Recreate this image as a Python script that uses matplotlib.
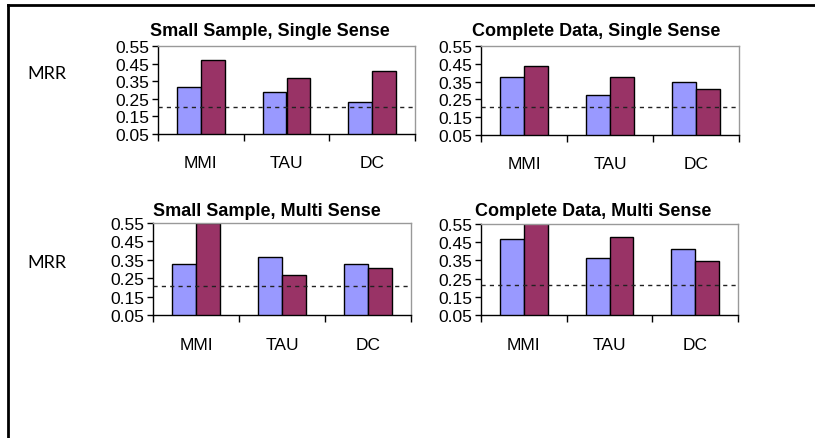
import matplotlib
matplotlib.use('Agg')
import matplotlib.pyplot as plt
from matplotlib.lines import Line2D
import numpy as np

# data
categories = ['MMI', 'TAU', 'DC']
titles = ['Small Sample, Single Sense', 'Complete Data, Single Sense',
          'Small Sample, Multi Sense', 'Complete Data, Multi Sense']
first_series = [
    [0.318, 0.288, 0.233],
    [0.375, 0.272, 0.349],
    [0.328, 0.363, 0.326],
    [0.466, 0.365, 0.411],
]
second_series = [
    [0.471, 0.367, 0.408],
    [0.438, 0.375, 0.307],
    [0.552, 0.268, 0.308],
    [0.560, 0.480, 0.345],
]
baselines = [0.205, 0.209, 0.208, 0.217]
yticks = [0.05, 0.15, 0.25, 0.35, 0.45, 0.55]

W, H = 815, 439
fig = plt.figure(figsize=(W / 100, H / 100), dpi=100)
plt.rcParams['font.family'] = ['Liberation Sans', 'DejaVu Sans']

# axes boxes in pixels: left, top, right, bottom
boxes = [
    (158, 47, 415, 135),
    (481, 47, 739, 136),
    (153, 224, 411, 316),
    (481, 225, 738, 316),
]
title_x = [270, 596, 267, 593]
title_y = [32, 32, 211, 211]


def px_axes(l, t, r, b):
    return fig.add_axes([l / W, 1 - b / H, (r - l) / W, (b - t) / H])


bar_w = 0.28
x = np.arange(len(categories)) + 0.5

for i in range(4):
    l, t, r, b = boxes[i]
    ax = px_axes(l, t, r, b)
    ax.bar(x - bar_w / 2, first_series[i], bar_w, bottom=0,
           color='#9999FF', edgecolor='black', linewidth=1, zorder=2)
    ax.bar(x + bar_w / 2, second_series[i], bar_w, bottom=0,
           color='#993366', edgecolor='black', linewidth=1, zorder=2)
    ax.axhline(baselines[i], color='#222222', linestyle=(0, (3, 3)),
               linewidth=1, zorder=3)

    ax.set_xlim(0, len(categories))
    ax.set_ylim(0.05, 0.55)
    ax.set_yticks(yticks)
    ax.set_yticklabels(['%.2f' % v for v in yticks], fontsize=12.5)
    ax.set_xticks(range(len(categories) + 1))
    ax.set_xticklabels([])
    ax.tick_params(axis='x', direction='out', length=5, width=1, color='black')
    ax.tick_params(axis='y', direction='out', length=4, width=1, color='black', pad=2)

    for side in ['top', 'right']:
        ax.spines[side].set_color('#999999')
        ax.spines[side].set_linewidth(1)
    for side in ['left', 'bottom']:
        ax.spines[side].set_color('black')
        ax.spines[side].set_linewidth(1)

    # category labels sit well below the axis
    for j, cat in enumerate(categories):
        ax.text(x[j], -0.32, cat, transform=ax.get_xaxis_transform(),
                ha='center', va='center', fontsize=12.5)

    fig.text(title_x[i] / W, 1 - title_y[i] / H, titles[i], ha='center',
             va='center', fontsize=13, fontweight='bold')

# MRR labels on the left
for yy in [74, 263]:
    fig.text(47 / W, 1 - yy / H, 'MRR', ha='center', va='center',
             fontsize=13, family=['Lato', 'DejaVu Sans'])

# outer frame: top and left edges only
fig.add_artist(Line2D([8 / W, 1], [1 - 6 / H, 1 - 6 / H], color='black',
                      linewidth=2, transform=fig.transFigure))
fig.add_artist(Line2D([8 / W, 8 / W], [0, 1 - 6 / H], color='black',
                      linewidth=2, transform=fig.transFigure))

fig.savefig('out.png', dpi=100)
